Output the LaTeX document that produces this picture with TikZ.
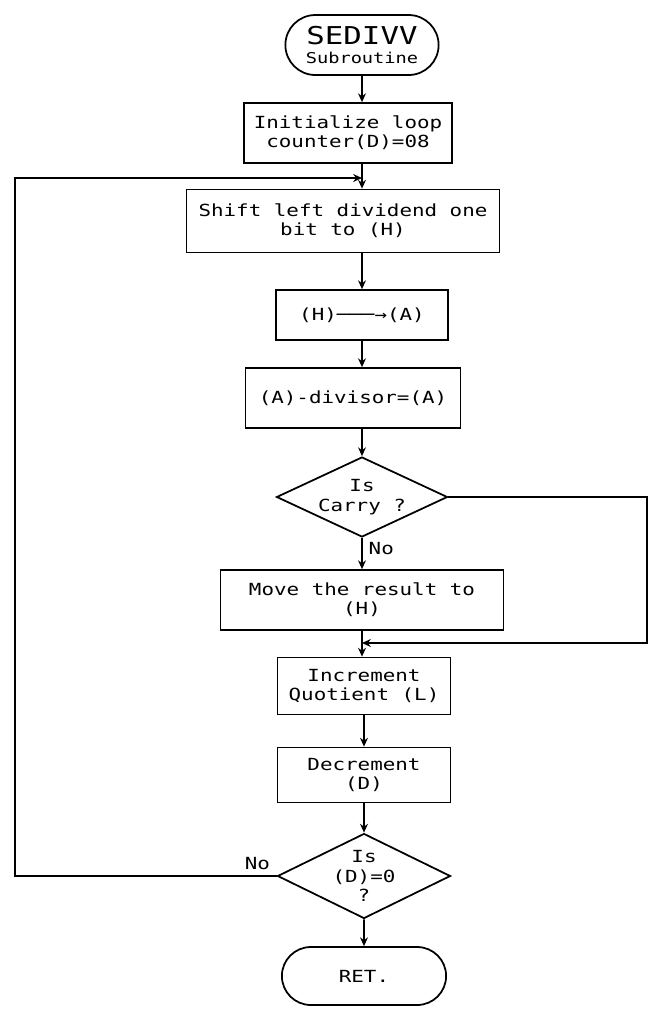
\documentclass[tikz,border=0pt]{standalone}
\usepackage{fontspec}
\usepackage{tikz}
\usetikzlibrary{arrows.meta,positioning,shapes.geometric,shapes.misc}
\newfontfamily\flowfont[FakeStretch=1.25]{DejaVu Sans Mono}

\begin{document}
\begin{tikzpicture}[x=0.02cm,y=-0.02cm,
    font=\flowfont\fontsize{9.5}{11}\selectfont,
    stepbox/.style={draw,line width=1pt,align=center,inner sep=2pt},
    decision/.style={draw,diamond,aspect=2,inner sep=0pt,align=center,line width=1pt},
    terminal/.style={draw,rounded rectangle,align=center,line width=1pt},
    arr/.style={line width=1pt,-{Stealth[length=5pt,width=4.5pt]}},
    line/.style={line width=1pt}]
  \useasboundingbox (0,0) rectangle (649,1009);

  \node[terminal,minimum width=3.3cm,minimum height=1.2cm] (start) at (362,45)
    {{\fontsize{14}{15}\selectfont SEDIVV}\\{\fontsize{8.5}{10}\selectfont Subroutine}};
  \node[stepbox,minimum width=4.16cm,minimum height=1.2cm] (init) at (348,133)
    {Initialize loop\\counter(D)=08};
  \node[stepbox,minimum width=6.26cm,minimum height=1.26cm] (shift) at (343,221)
    {Shift left dividend one\\bit to (H)};
  \node[stepbox,minimum width=3.44cm,minimum height=1cm] (hta) at (362,315) {(H)───→(A)};
  \node[stepbox,minimum width=4.3cm,minimum height=1.2cm] (sub) at (353,398) {(A)-divisor=(A)};
  \node[decision,minimum width=3.42cm,minimum height=1.6cm] (carry) at (362,497) {Is\\Carry ?};
  \node[stepbox,minimum width=5.66cm,minimum height=1.2cm] (move) at (362,600)
    {Move the result to\\(H)};
  \node[stepbox,minimum width=3.46cm,minimum height=1.14cm] (inc) at (364,686)
    {Increment\\Quotient (L)};
  \node[stepbox,minimum width=3.46cm,minimum height=1.1cm] (dec) at (364,775) {Decrement\\(D)};
  \node[decision,minimum width=3.46cm,minimum height=1.7cm] (zero) at (364,876) {Is\\(D)=0\\?};
  \node[terminal,minimum width=3.52cm,minimum height=1.16cm] (ret) at (364,976) {RET.};

  % junctions of the loops
  \coordinate (jn) at (362,178);
  \coordinate (jm) at (362,643);
  \coordinate (loopL) at (15,178);
  \coordinate (rgt) at (647,643);

  \draw[arr] (start) -- (start.south |- init.north);
  \draw[line] (start.south |- init.south) -- (jn);
  \draw[arr] (jn) -- (jn |- shift.north);
  \draw[arr] (jn |- shift.south) -- (hta);
  \draw[arr] (hta) -- (jn |- sub.north);
  \draw[arr] (jn |- sub.south) -- (carry);
  \draw[arr] (carry) -- node[pos=.35,right] {No} (move);
  \draw[arr] (carry.east) -| (rgt) -- (jm);
  \draw[line] (move) -- (jm);
  \draw[arr] (jm) -- (jm |- inc.north);
  \draw[arr] (inc) -- (dec);
  \draw[arr] (dec) -- (zero);
  \draw[arr] (zero) -- (ret);
  \draw[arr] (zero.west) node[above left] {No} -| (loopL) -- (jn);
\end{tikzpicture}
\end{document}
